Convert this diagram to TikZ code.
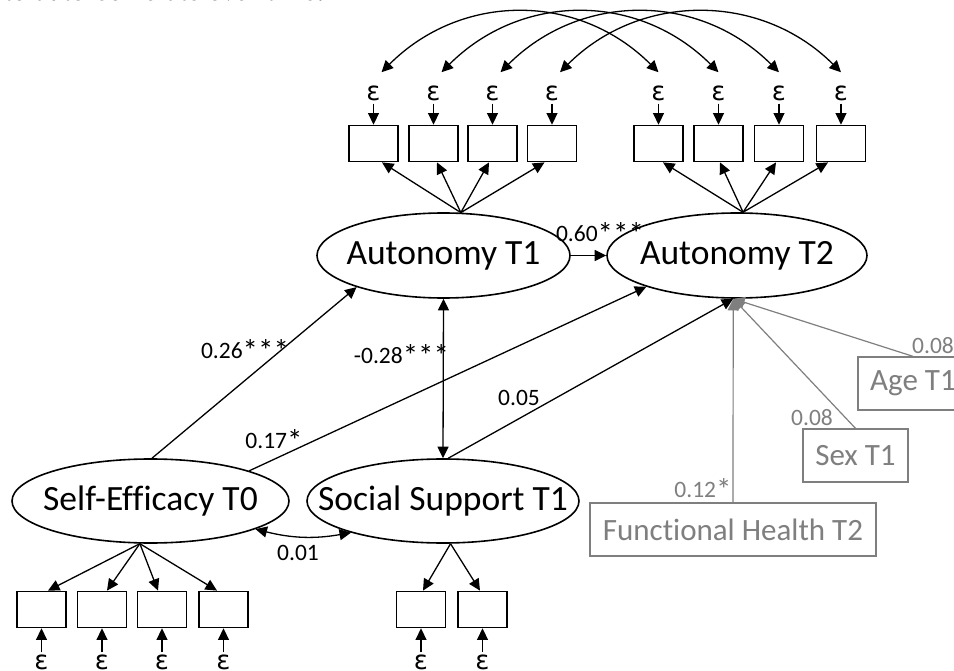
\documentclass[tikz,border=0pt]{standalone}
\usepackage{fontspec}
\setmainfont{Carlito}[Ligatures=NoCommon]
\newfontfamily\epsfont{DejaVu Sans}
\newfontfamily\capfont{Liberation Serif}
\usetikzlibrary{arrows.meta,calc,shapes.geometric}
\definecolor{gr}{RGB}{127,127,127}
\newcommand\mystars[1]{\raisebox{-2.5pt}{\fontsize{31}{31}\selectfont #1}}
\begin{document}
\begin{tikzpicture}[x=1pt,y=-1pt,
  lat/.style={ellipse,draw,line width=1.6pt,inner sep=0pt},
  latlbl/.style={font=\fontsize{35.5}{38}\selectfont},
  ind/.style={rectangle,draw,line width=1.8pt,minimum width=49pt,minimum height=36pt,inner sep=0pt},
  eps/.style={font=\epsfont\fontsize{26}{26}\selectfont,inner sep=2pt,anchor=base},
  lbl/.style={font=\fontsize{23.5}{26}\selectfont,inner sep=0pt},
  tip/.tip={Triangle[length=11.5pt,width=11pt]},
  arr/.style={line width=1.3pt,-tip},
  darr/.style={line width=1.3pt,tip-tip},
  gbox/.style={draw=gr,text=gr,line width=1.3pt,font=\fontsize{31}{34}\selectfont,inner sep=0pt,minimum height=53pt},
  garr/.style={draw=gr,line width=1.2pt,-tip},
  glbl/.style={lbl,text=gr}
]
\useasboundingbox (0,0) rectangle (954,671);
\fill[white] (0,0) rectangle (954,671);

% cut-off text at top
\node[font=\capfont\itshape\fontsize{29}{30}\selectfont,anchor=base east,inner sep=0pt] (cap) at (325,1) {to auto-correlate over time.};

% latent variables
\node[lat,minimum width=253pt,minimum height=85pt,label={[latlbl]center:Autonomy T1}] (A1) at (443.5,255.5) {};
\node[lat,minimum width=260pt,minimum height=85pt,label={[latlbl]center:Autonomy T2}] (A2) at (737,255.5) {};
\node[lat,minimum width=277pt,minimum height=84pt,label={[latlbl]center:Self-Efficacy T0}] (SE) at (150.5,501) {};
\node[lat,minimum width=272pt,minimum height=84pt,label={[latlbl]center:Social Support T1}] (SS) at (443,501) {};

% top indicators
\foreach \i/\x in {1/373.5,2/433.5,3/492.5,4/552,5/658.5,6/718.5,7/779,8/841}{
  \node[ind] (t\i) at (\x,143.5) {};
  \node[eps] (e\i) at (\x,101) {ε};
  \draw[arr] (e\i) -- (t\i);
}
% bottom indicators
\foreach \i/\x in {1/41.5,2/102,3/162,4/223.5,5/421,6/482.5}{
  \node[ind] (b\i) at (\x,609.5) {};
  \node[eps] (f\i) at (\x,669) {ε};
  \draw[arr] (f\i) -- (b\i);
}

% loadings
\foreach \i/\d in {1/8.5,2/3.5,3/-3.5,4/-7.5}{
  \draw[arr] (A1.68.6) -- ($(t\i.south)+(\d,0)$);
}
\foreach \i/\d in {5/4.5,6/1.5,7/-3,8/-13}{
  \draw[arr] (A2.82) -- ($(t\i.south)+(\d,0)$);
}
\foreach \i/\d in {1/6.5,2/5,3/-4,4/-6.5}{
  \draw[arr] (SE.-104) -- ($(b\i.north)+(\d,0)$);
}
\foreach \i/\d in {5/2,6/-2.5}{
  \draw[arr] (SS.-80.5) -- ($(b\i.north)+(\d,0)$);
}

% residual covariances (auto-correlation)
\foreach \i/\j in {1/5,2/6,3/7,4/8}{
  \draw[darr] ($(e\i.north)+(8,-12)$) .. controls +(80,-80) and +(-80,-80) .. ($(e\j.north)+(0,-12)$);
}

% structural paths
\draw[arr] (A1.east) -- (A2.west);
\node[lbl] (l1) at (600,233) {0.60\mystars{***}};
\draw[arr] (SE.88) -- (A1.200);
\node[lbl] (l2) at (245,350) {0.26\mystars{***}};
\draw[arr] (SE.17) -- (A2.199);
\node[lbl] (l3) at (274,440) {0.17\mystars{*}};
\draw[darr] (A1.south) -- (SS.north);
\node[lbl] (l4) at (401.5,355) {-0.28\mystars{***}};
\draw[arr] (SS.83) -- (A2.265);
\node[lbl] (l5) at (519,398) {0.05};
\draw[darr] (SE.-15) to[bend right=12] (SS.199);
\node[lbl] (l6) at (298,553) {0.01};

% covariates
\node[gbox,minimum width=110pt] (age) at (913,383.5) {Age T1};
\node[gbox,minimum width=105pt] (sex) at (855.5,455.5) {Sex T1};
\node[gbox,minimum width=286pt] (fh) at (733,529.5) {Functional Health T2};
\draw[garr] (age.north) -- (A2.265);
\draw[garr] (sex.north) -- (A2.265);
\draw[garr] (fh.north) -- (A2.265);
\node[glbl] (g1) at (933,346) {0.08};
\node[glbl] (g2) at (812,418) {0.08};
\node[glbl] (g3) at (703,489) {0.12\mystars{*}};
\end{tikzpicture}
\end{document}
